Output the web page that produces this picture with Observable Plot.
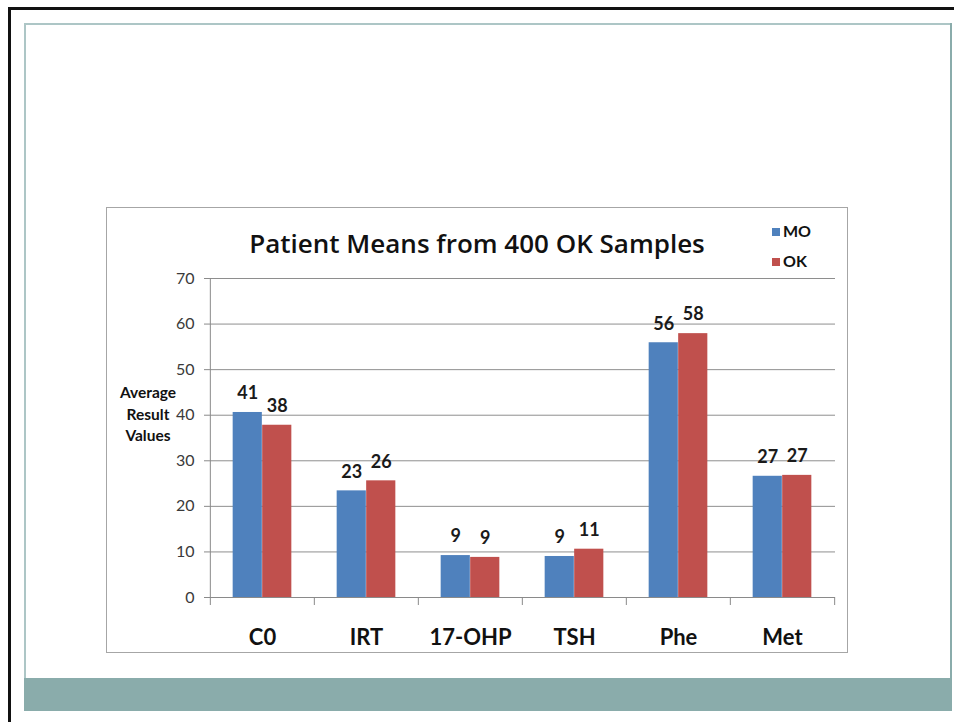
<!DOCTYPE html>
<html><head><meta charset="utf-8">
<script src="https://cdn.jsdelivr.net/npm/d3@7"></script>
<script src="https://cdn.jsdelivr.net/npm/@observablehq/plot@0.6"></script>
<style>
body{margin:0;background:#fff;width:954px;height:722px;position:relative;overflow:hidden;font-family:Lato,sans-serif}
.abs{position:absolute}
#title{left:0;width:740px;top:19px;text-align:center;font-family:"Open Sans",sans-serif;font-size:26px;font-weight:600;line-height:32px;color:#111}
#ytitle{left:6px;width:70px;top:174px;text-align:center;font-size:15.5px;font-weight:bold;line-height:21.5px;color:#111}
.leg{font-size:16px;font-weight:bold;color:#111;line-height:18px}
.sw{display:inline-block;width:8px;height:8px;margin-right:3px;vertical-align:1px}
</style></head><body>
<div class="abs" style="left:8px;top:7px;width:946px;height:3px;background:#111"></div>
<div class="abs" style="left:8px;top:7px;width:3px;height:715px;background:#111"></div>
<div class="abs" style="left:24px;top:23px;width:928px;height:2px;background:#adc6c6"></div>
<div class="abs" style="left:24px;top:23px;width:2px;height:688px;background:#adc6c6"></div>
<div class="abs" style="left:950px;top:23px;width:2px;height:688px;background:#8aacab"></div>
<div class="abs" style="left:24px;top:678px;width:928px;height:33px;background:#8aacab"></div>
<div id="box" class="abs" style="left:106px;top:207px;width:740px;height:444px;border:1px solid #a6a6a6;background:#fff">
  <div id="title" class="abs">Patient Means from 400 OK Samples</div>
  <div id="ytitle" class="abs">Average<br>Result<br>Values</div>
  <div id="legend" class="abs" style="left:665px;top:14px"></div>
  <div id="chart" class="abs" style="left:0;top:0"></div>
</div>
<script>
const categories = ["C0", "IRT", "17-OHP", "TSH", "Phe", "Met"];
const series = ["MO", "OK"];
const moValues = [40.6, 23.4, 9.2, 9.0, 55.9, 26.6];
const okValues = [37.8, 25.6, 8.8, 10.6, 57.9, 26.8];
const yTicks = [0, 10, 20, 30, 40, 50, 60, 70];
const colors = ["#4f81bd", "#c0504d"];

const W = 740, H = 444, ML = 102, MR = 12, MT = 70, MB = 55;
const bw = (W - ML - MR) / categories.length;
const barW = 29.5;

const moData = categories.map((c, i) => ({category: c, series: "MO", value: moValues[i]}));
const okData = categories.map((c, i) => ({category: c, series: "OK", value: okValues[i]}));
const fmt = d3.format(".0f");
const labelStyle = {fontSize: 18, fontWeight: "bold", fill: "#1a1a1a", lineAnchor: "middle", dy: -19};

const chart = Plot.plot({
  width: W, height: H,
  marginLeft: ML, marginRight: MR, marginTop: MT, marginBottom: MB,
  style: {fontFamily: "Lato, sans-serif", background: "transparent", overflow: "visible"},
  x: {domain: categories, padding: 0, label: null},
  y: {domain: [0, 70], label: null},
  color: {domain: series, range: colors},
  marks: [
    Plot.gridY(yTicks.slice(1), {stroke: "#8e8e8e", strokeOpacity: 1}),
    Plot.barY(moData, {x: "category", y: "value", fill: "series", insetLeft: bw / 2 - barW, insetRight: bw / 2}),
    Plot.barY(okData, {x: "category", y: "value", fill: "series", insetLeft: bw / 2, insetRight: bw / 2 - barW}),
    Plot.text(moData, {x: "category", y: "value", text: d => fmt(d.value), dx: -barW / 2, ...labelStyle}),
    Plot.text(okData, {x: "category", y: "value", text: d => fmt(d.value), dx: barW / 2, ...labelStyle}),
    Plot.ruleY([0], {stroke: "#8a8a8a"}),
    Plot.ruleX([categories[0]], {y1: 0, y2: 70, dx: -bw / 2, stroke: "#8a8a8a"}),
    Plot.ruleX(categories, {y1: 0, y2: 0, dx: -bw / 2, insetBottom: -8, stroke: "#8a8a8a"}),
    Plot.ruleX([categories[categories.length - 1]], {y1: 0, y2: 0, dx: bw / 2, insetBottom: -8, stroke: "#8a8a8a"}),
    Plot.axisY(yTicks, {tickSize: 5, tickPadding: 10, stroke: "#8a8a8a", fill: "#3a3a3a", fontSize: 16, label: null}),
    Plot.axisX({tickSize: 0, tickPadding: 32, fontSize: 22, fontWeight: "bold", fill: "#111", label: null})
  ]
});
document.getElementById("chart").appendChild(chart);

const legend = document.getElementById("legend");
series.forEach((s, i) => {
  const row = document.createElement("div");
  row.className = "leg";
  row.style.marginBottom = "12px";
  row.innerHTML = `<span class="sw" style="background:${colors[i]}"></span>${s}`;
  legend.appendChild(row);
});
</script>
</body></html>
